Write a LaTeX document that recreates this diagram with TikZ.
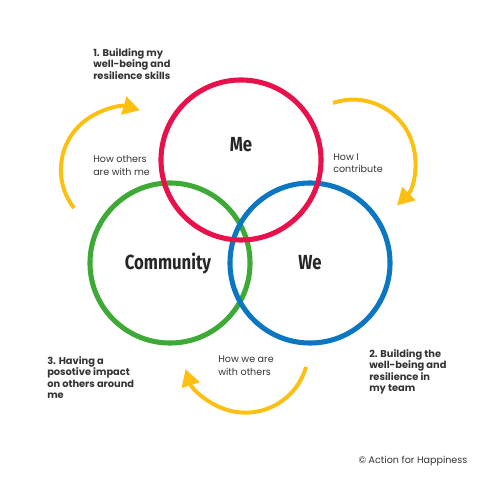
\documentclass[tikz,border=0pt]{standalone}
\usepackage{fontspec}
\setmainfont{Poppins}
\newfontfamily\bigfont[FakeStretch=0.82]{Fira Sans}
\usetikzlibrary{arrows.meta}
\definecolor{meRed}{HTML}{E8114B}
\definecolor{comGreen}{HTML}{3DAA35}
\definecolor{weBlue}{HTML}{0B77C2}
\definecolor{arrYellow}{HTML}{FDC010}
\definecolor{txtGray}{HTML}{333333}
\begin{document}
\begin{tikzpicture}[x=0.025cm, y=0.025cm, >={Triangle[length=0.42cm,width=0.45cm]}]
\tikzstyle{ring}=[circle, draw, line width=3.6pt, minimum size=4cm, inner sep=0]
\tikzstyle{big}=[font=\bigfont\bfseries\fontsize{14.5}{16}\selectfont, text=black!85]
\tikzstyle{small}=[font=\fontsize{6.8}{8.9}\selectfont, align=left, anchor=west, inner sep=0, text=txtGray]
\tikzstyle{goal}=[font=\bfseries\fontsize{7}{8.2}\selectfont, align=left, anchor=west, inner sep=0, text=txtGray]
\tikzstyle{flow}=[draw=arrYellow, line width=2.8pt, ->]
\useasboundingbox (0,0) rectangle (480,480);
% the three circles
\node[ring, draw=comGreen] (community) at (170,217) {};
\node[ring, draw=weBlue] (we) at (310,217) {};
\node[ring, draw=meRed] (me) at (241,320) {};
\node[big] (meLbl) at (241,335) {Me};
\node[big] (comLbl) at (168,217) {Community};
\node[big] (weLbl) at (310,217) {We};
% cycle arrows
\coordinate (s1) at (74,272);
\coordinate (s2) at (333,377);
\coordinate (s3) at (306,113);
\draw[flow] (s1) arc[start angle=218, end angle=74, radius=62];
\draw[flow] (s2) arc[start angle=109, end angle=-45, radius=62];
\draw[flow] (s3) arc[start angle=-16, end angle=-162, radius=63];
% texts
\node[goal] (goal1) at (93,416) {1. Building my\\well-being and\\resilience skills};
\node[small] (contrib) at (333,317) {How I\\contribute};
\node[small] (others) at (93,314.5) {How others\\are with me};
\node[goal] (goal3) at (47,102.5) {3. Having a\\posotive impact\\on others around\\me};
\node[goal] (goal2) at (369,108) {2. Building the\\well-being and\\resilience in\\my team};
\node[small] (withOthers) at (218,114.5) {How we are\\with others};
\node[small, anchor=center] (copy) at (413,19) {© Action for Happiness};
\end{tikzpicture}
\end{document}
